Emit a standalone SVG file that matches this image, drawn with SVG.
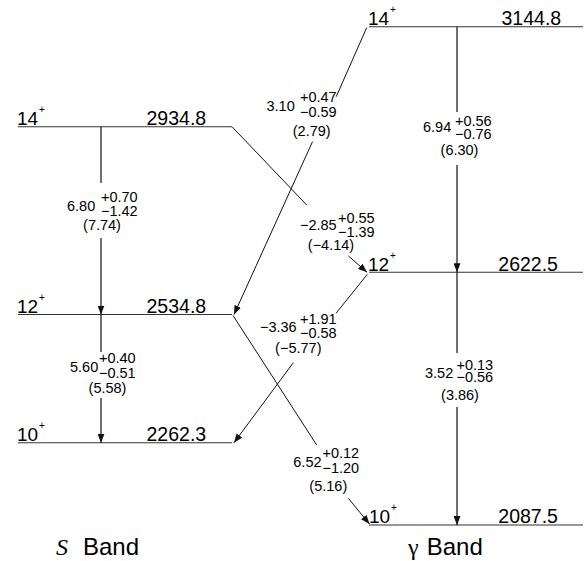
<svg xmlns="http://www.w3.org/2000/svg" width="586" height="561" viewBox="0 0 586 561">
<defs>
<style>
.lvl{stroke:#333;stroke-width:1.1;fill:none}
.tr{stroke:#111;stroke-width:1.2;fill:none}
.cr{stroke:#111;stroke-width:1;fill:none}
.en{font-family:"Liberation Sans",Arial,sans-serif;font-size:19.5px;fill:#000}
.sp{font-family:"Liberation Sans",Arial,sans-serif;font-size:19px;fill:#000}
.pl{font-family:"Liberation Sans",Arial,sans-serif;font-size:10px;fill:#000}
.v{font-family:"Liberation Sans",Arial,sans-serif;font-size:14.5px;fill:#000}
.mid{text-anchor:middle}
.band{font-family:"Liberation Sans",Arial,sans-serif;font-size:24px;fill:#000}
.sym{font-family:"Liberation Serif","Times New Roman",serif;font-size:24px;fill:#000}
</style>
<marker id="ah" markerWidth="9" markerHeight="7" refX="9" refY="3.5" orient="auto" markerUnits="userSpaceOnUse">
<path d="M0,0 L9,3.5 L0,7 z" fill="#111"/>
</marker>
</defs>
<rect width="586" height="561" fill="#fff"/>

<g id="s14">
<line class="lvl" x1="18" y1="126.7" x2="232" y2="126.7"/>
<text class="sp" x="17" y="125">14</text><text class="pl" x="39" y="113">+</text>
<text class="en" x="146.5" y="125">2934.8</text>
</g>
<g id="s12">
<line class="lvl" x1="18" y1="314.5" x2="232" y2="314.5"/>
<text class="sp" x="17" y="312.7">12</text><text class="pl" x="39" y="301">+</text>
<text class="en" x="146.5" y="312.7">2534.8</text>
</g>
<g id="s10">
<line class="lvl" x1="18" y1="442.7" x2="232" y2="442.7"/>
<text class="sp" x="17" y="441">10</text><text class="pl" x="39" y="429">+</text>
<text class="en" x="146.5" y="441">2262.3</text>
</g>
<g id="g14">
<line class="lvl" x1="369" y1="26.7" x2="583" y2="26.7"/>
<text class="sp" x="368" y="25">14</text><text class="pl" x="390" y="13">+</text>
<text class="en" x="501.5" y="25">3144.8</text>
</g>
<g id="g12">
<line class="lvl" x1="369" y1="272.3" x2="583" y2="272.3"/>
<text class="sp" x="368" y="270.7">12</text><text class="pl" x="390" y="259">+</text>
<text class="en" x="498.3" y="270.7">2622.5</text>
</g>
<g id="g10">
<line class="lvl" x1="369" y1="525" x2="583" y2="525"/>
<text class="sp" x="369" y="522.7">10</text><text class="pl" x="391" y="511">+</text>
<text class="en" x="498.3" y="522.7">2087.5</text>
</g>

<g id="connectors">
<!-- S band 14 -> 12 -->
<line class="tr" x1="101" y1="126.7" x2="101" y2="183"/>
<line class="tr" x1="101" y1="238" x2="101" y2="314.5" marker-end="url(#ah)"/>
<text class="v" x="67" y="210.7">6.80</text>
<text class="v" x="101" y="201.7">+0.70</text>
<text class="v" x="101" y="215.5">−1.42</text>
<text class="v mid" x="102" y="230">(7.74)</text>
<!-- S band 12 -> 10 -->
<line class="tr" x1="101" y1="314.5" x2="101" y2="352"/>
<line class="tr" x1="101" y1="398" x2="101" y2="442.7" marker-end="url(#ah)"/>
<text class="v" x="70" y="372">5.60</text>
<text class="v" x="99" y="363">+0.40</text>
<text class="v" x="99" y="378">−0.51</text>
<text class="v mid" x="107.5" y="393">(5.58)</text>
<!-- gamma 14 -> 12 -->
<line class="tr" x1="457" y1="26.7" x2="457" y2="112"/>
<line class="tr" x1="457" y1="165" x2="457" y2="272.3" marker-end="url(#ah)"/>
<text class="v" x="423" y="131.5">6.94</text>
<text class="v" x="455" y="126">+0.56</text>
<text class="v" x="455" y="138.5">−0.76</text>
<text class="v mid" x="459.5" y="155">(6.30)</text>
<!-- gamma 12 -> 10 -->
<line class="tr" x1="457" y1="272.3" x2="457" y2="353"/>
<line class="tr" x1="457" y1="407" x2="457" y2="525" marker-end="url(#ah)"/>
<text class="v" x="425" y="377.7">3.52</text>
<text class="v" x="456.5" y="370">+0.13</text>
<text class="v" x="456.5" y="381.7">−0.56</text>
<text class="v mid" x="460" y="400">(3.86)</text>
<!-- gamma 14 -> S 12 -->
<line class="cr" x1="366.7" y1="27.7" x2="336.2" y2="96.7"/>
<line class="cr" x1="312.5" y1="141.7" x2="234" y2="314.5" marker-end="url(#ah)"/>
<text class="v" x="266.5" y="111">3.10</text>
<text class="v" x="300" y="101.7">+0.47</text>
<text class="v" x="300" y="116.7">−0.59</text>
<text class="v mid" x="311.7" y="136">(2.79)</text>
<!-- S 14 -> gamma 12 -->
<line class="cr" x1="232" y1="126.7" x2="306.7" y2="205"/>
<line class="cr" x1="348.5" y1="256" x2="367" y2="272.3" marker-end="url(#ah)"/>
<text class="v" x="300" y="230">−2.85</text>
<text class="v" x="338" y="223.3">+0.55</text>
<text class="v" x="338" y="237">−1.39</text>
<text class="v mid" x="331" y="250">(−4.14)</text>
<!-- gamma 12 -> S 10 -->
<line class="cr" x1="367.3" y1="274.3" x2="336" y2="313.3"/>
<line class="cr" x1="293.3" y1="362.7" x2="234" y2="442.7" marker-end="url(#ah)"/>
<text class="v" x="260" y="331.7">−3.36</text>
<text class="v" x="300" y="324">+1.91</text>
<text class="v" x="300" y="338.3">−0.58</text>
<text class="v mid" x="298.3" y="353">(−5.77)</text>
<!-- S 12 -> gamma 10 -->
<line class="cr" x1="233" y1="315.5" x2="316.7" y2="445"/>
<line class="cr" x1="348.3" y1="498.3" x2="369.5" y2="524" marker-end="url(#ah)"/>
<text class="v" x="293.3" y="466.7">6.52</text>
<text class="v" x="322.5" y="458.3">+0.12</text>
<text class="v" x="322.5" y="473.3">−1.20</text>
<text class="v mid" x="328.3" y="491">(5.16)</text>
</g>

<g id="sband">
<text class="sym" x="56" y="555" font-style="italic">S</text>
<text class="band" x="83" y="555">Band</text>
</g>
<g id="gband">
<text class="sym" x="408" y="555">γ</text>
<text class="band" x="426.7" y="555">Band</text>
</g>
</svg>
